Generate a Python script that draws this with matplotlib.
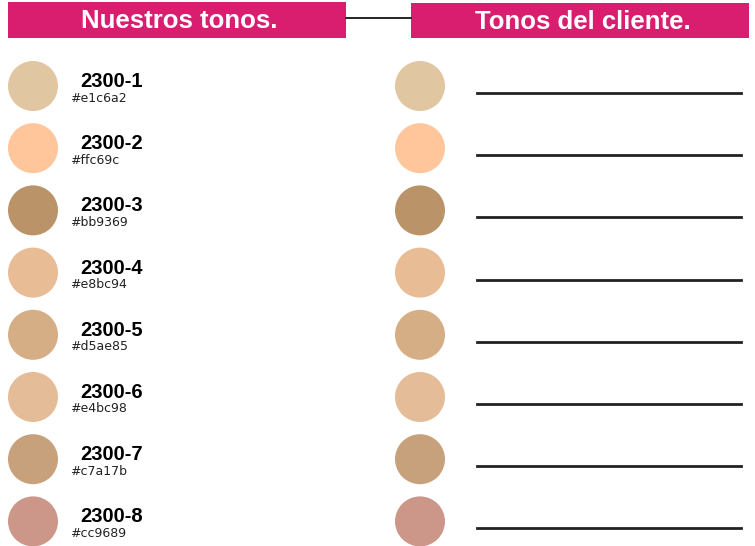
import matplotlib
matplotlib.use("Agg")
import matplotlib.pyplot as plt
from matplotlib.patches import Circle, Rectangle

codes = ["2300-1", "2300-2", "2300-3", "2300-4", "2300-5", "2300-6", "2300-7", "2300-8"]
hexes = ["#e1c6a2", "#ffc69c", "#bb9369", "#e8bc94", "#d5ae85", "#e4bc98", "#c7a17b", "#cc9689"]
titles = ["Nuestros tonos.", "Tonos del cliente."]

W, H = 755, 546
fig = plt.figure(figsize=(W / 100, H / 100), dpi=100)
ax = fig.add_axes([0, 0, 1, 1])
ax.set_xlim(0, W)
ax.set_ylim(H, 0)
ax.axis("off")

pink = "#d91e70"
# banners
ax.add_patch(Rectangle((8, 2), 338, 36, color=pink, lw=0))
ax.add_patch(Rectangle((411, 3), 338, 35, color=pink, lw=0))
ax.plot([346, 411], [18, 18], color="black", lw=1.2)
ax.text(179, 21, titles[0], color="white", fontsize=18.5, fontweight="bold",
        family="Liberation Sans", ha="center", va="center")
ax.text(583, 22, titles[1], color="white", fontsize=18.5, fontweight="bold",
        family="Liberation Sans", ha="center", va="center")

y0, dy = 86, 62.2
for i, (c, h) in enumerate(zip(codes, hexes)):
    y = y0 + i * dy
    ax.add_patch(Circle((33, y), 25, color=h, lw=0))
    ax.add_patch(Circle((420, y), 25, color=h, lw=0))
    ax.text(80, y + 1, c, fontsize=14.5, fontweight="bold", family="Liberation Sans",
            ha="left", va="baseline", color="black")
    ax.text(70, y + 12, h, fontsize=9, family="DejaVu Sans",
            ha="left", va="center", color="#222222")
    ax.plot([477, 741], [y + 7, y + 7], color="#222222", lw=2)

fig.savefig("out.png", dpi=100)
